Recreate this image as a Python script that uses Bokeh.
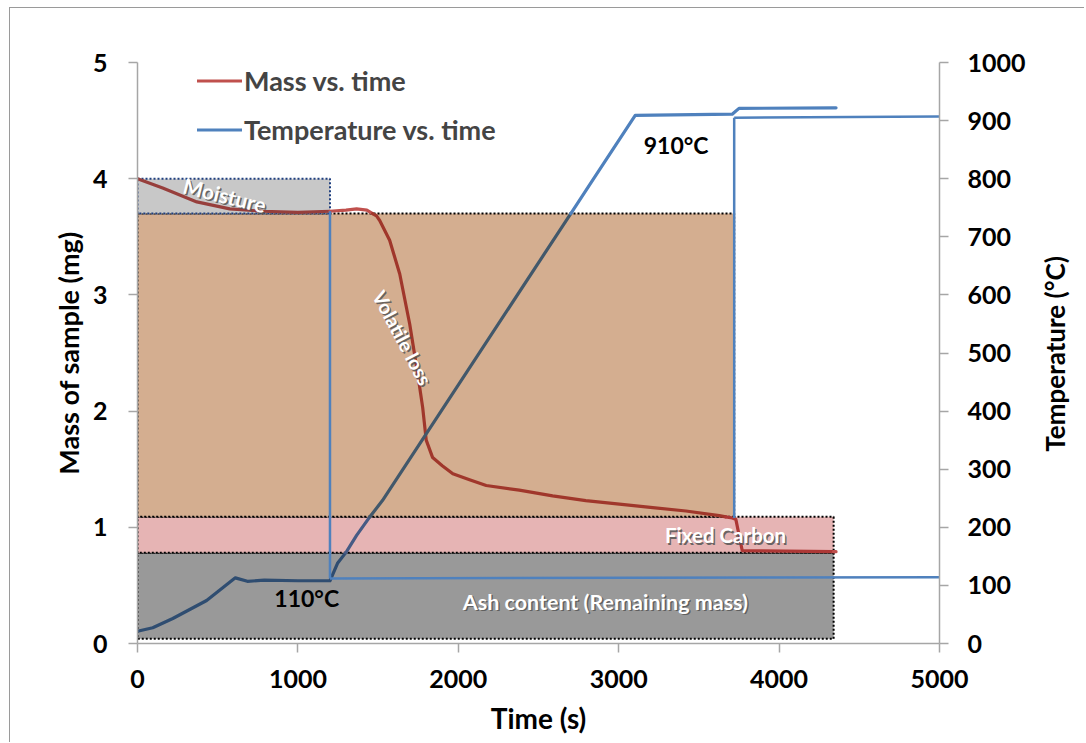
import math
from bokeh.plotting import figure
from bokeh.layouts import row
from bokeh.models import Range1d, LinearAxis, Legend, LegendItem, FixedTicker
from bokeh.core.properties import value
from bokeh.embed import file_html
from bokeh.resources import INLINE

# ---------------- data ----------------
mass_time = [0, 157, 370, 575, 782, 1000, 1200, 1300, 1366, 1430, 1490, 1510,
             1572, 1635, 1697, 1747, 1778, 1800, 1840, 1900, 1966, 2070, 2174,
             2380, 2588, 2795, 3004, 3212, 3419, 3627, 3708, 3730, 3770, 4355]
mass_mg = [4.00, 3.92, 3.80, 3.74, 3.72, 3.71, 3.72, 3.73, 3.74, 3.73, 3.68, 3.64,
           3.47, 3.18, 2.75, 2.32, 2.03, 1.75, 1.60, 1.53, 1.46, 1.41, 1.36,
           1.32, 1.27, 1.23, 1.20, 1.17, 1.14, 1.10, 1.08, 1.07, 0.80, 0.79]

temp_time = [0, 95, 220, 431, 610, 685, 790, 1000, 1200, 1247, 1303, 1366,
             1446, 1527, 3103, 3708, 3750, 4355]
temp_c = [21, 27, 43, 74, 113, 107, 109, 108, 108, 138, 158, 186,
          217, 246, 909, 911, 921, 922]

# drop lines marking the two temperature stages
stage_time = [1200, 3720]
stage_mass = [3.72, 1.08]
stage_temp_start = [112, 905]
stage_temp_end = [114, 907]
stage_labels = ["110°C", "910°C"]

# mass regions (stacked boxes)
region_names = ["Ash content (Remaining mass)", "Fixed Carbon", "Volatile loss", "Moisture"]
region_t0 = [0, 0, 0, 0]
region_t1 = [4340, 4340, 3720, 1200]
region_bottom = [0.04, 0.78, 1.09, 3.70]
region_top = [0.78, 1.09, 3.70, 4.00]

x_ticks = [0, 1000, 2000, 3000, 4000, 5000]
mass_ticks = [0, 1, 2, 3, 4, 5]
temp_ticks = [0, 100, 200, 300, 400, 500, 600, 700, 800, 900, 1000]

# ---------------- styles ----------------
RED = "#C0504D"
BLUE = "#4F81BD"
region_fill = ["#999999", "#E6B4B4", "#D4AE90", "#C8C8C8"]
region_border = ["#000000", "#000000", "#000000", "#1F3F7F"]
FONT = value("Lato")
AXIS_GREY = "#A6A6A6"

X_MAX, MASS_MAX, TEMP_MAX = 5000, 5, 1000
TEMP_PER_MG = TEMP_MAX / MASS_MAX


def hex_rgb(h):
    h = h.lstrip("#")
    return tuple(int(h[i:i + 2], 16) for i in (0, 2, 4))


def multiply(c1, c2):
    a, b = hex_rgb(c1), hex_rgb(c2)
    return "#%02x%02x%02x" % tuple(int(round(x * y / 255)) for x, y in zip(a, b))


def split_by_regions(xs, ys, boxes):
    """Split a polyline where it crosses box edges; returns pieces with box index (or None)."""
    pieces = []
    for i in range(len(xs) - 1):
        xa, ya, xb, yb = xs[i], ys[i], xs[i + 1], ys[i + 1]
        ts = {0.0, 1.0}
        for (x0, x1, y0, y1) in boxes:
            if xb != xa:
                for bx in (x0, x1):
                    t = (bx - xa) / (xb - xa)
                    if 0 < t < 1:
                        ts.add(t)
            if yb != ya:
                for by in (y0, y1):
                    t = (by - ya) / (yb - ya)
                    if 0 < t < 1:
                        ts.add(t)
        ts = sorted(ts)
        for ta, tb in zip(ts[:-1], ts[1:]):
            pa = (xa + ta * (xb - xa), ya + ta * (yb - ya))
            pb = (xa + tb * (xb - xa), ya + tb * (yb - ya))
            mx, my = (pa[0] + pb[0]) / 2, (pa[1] + pb[1]) / 2
            key = None
            for k, (x0, x1, y0, y1) in enumerate(boxes):
                if x0 <= mx <= x1 and y0 <= my <= y1:
                    key = k
            if pieces and pieces[-1][2] == key:
                pieces[-1][0].append(pb[0])
                pieces[-1][1].append(pb[1])
            else:
                pieces.append(([pa[0], pb[0]], [pa[1], pb[1]], key))
    return pieces


# ---------------- main figure ----------------
p = figure(width=1019, height=734, output_backend="svg", toolbar_location=None,
           x_range=Range1d(0, X_MAX), y_range=Range1d(0, MASS_MAX),
           min_border_left=127, min_border_right=90, min_border_top=54,
           min_border_bottom=99, frame_width=802, frame_height=581,
           background_fill_color="white", border_fill_color="white")
p.extra_y_ranges = {"temp": Range1d(0, TEMP_MAX)}
p.outline_line_color = None
p.xgrid.visible = False
p.ygrid.visible = False


def style_axis(ax, standoff):
    ax.axis_line_color = AXIS_GREY
    ax.axis_line_width = 1.5
    ax.major_tick_line_color = AXIS_GREY
    ax.major_tick_line_width = 1.5
    ax.major_tick_out = 9
    ax.major_tick_in = 0
    ax.minor_tick_line_color = None
    ax.major_label_text_font = "Lato"
    ax.major_label_text_font_style = "bold"
    ax.major_label_text_font_size = "25px"
    ax.major_label_text_color = "black"
    ax.major_label_standoff = standoff
    ax.axis_label_text_font = "Lato"
    ax.axis_label_text_font_style = "bold"
    ax.axis_label_text_font_size = "27px"
    ax.axis_label_text_color = "black"


xa = p.xaxis[0]
style_axis(xa, 17)
xa.ticker = FixedTicker(ticks=x_ticks)
xa.axis_label = "Time (s)"
xa.axis_label_standoff = 10
xa.axis_label_text_font_size = "28px"

ya = p.yaxis[0]
style_axis(ya, 21)
ya.ticker = FixedTicker(ticks=mass_ticks)
ya.axis_label = "Mass of sample (mg)"
ya.axis_label_standoff = 5

ra = LinearAxis(y_range_name="temp")
style_axis(ra, 19)
ra.ticker = FixedTicker(ticks=temp_ticks)
p.add_layout(ra, "right")

# ---------------- region boxes ----------------
for k in range(len(region_names)):
    p.quad(left=[region_t0[k]], right=[region_t1[k]], bottom=[region_bottom[k]],
           top=[region_top[k]], fill_color=region_fill[k], line_color=region_border[k],
           line_width=2, line_dash="2 2")

# ---------------- series lines (tinted where they pass under a box) ----------------
mass_boxes = [(region_t0[k], region_t1[k], region_bottom[k], region_top[k])
              for k in range(len(region_names))]
temp_boxes = [(b[0], b[1], b[2] * TEMP_PER_MG, b[3] * TEMP_PER_MG) for b in mass_boxes]

m_pieces = split_by_regions(mass_time, mass_mg, mass_boxes)
m_colors = [RED if k is None else multiply(RED, region_fill[k]) for _, _, k in m_pieces]
mass_r = p.multi_line([pc[0] for pc in m_pieces], [pc[1] for pc in m_pieces],
                      line_color=m_colors, line_width=3.2, line_join="round", line_cap="round")

t_pieces = split_by_regions(temp_time, temp_c, temp_boxes)
t_colors = [BLUE if k is None else multiply(BLUE, region_fill[k]) for _, _, k in t_pieces]
temp_r = p.multi_line([pc[0] for pc in t_pieces], [pc[1] for pc in t_pieces],
                      line_color=t_colors, line_width=3.2, line_join="round", line_cap="round",
                      y_range_name="temp")

# ---------------- stage drop lines ----------------
p.segment(x0=stage_time, x1=stage_time, y0=stage_mass,
          y1=[t / TEMP_PER_MG for t in stage_temp_start], line_color=BLUE, line_width=2.5)
p.segment(x0=stage_time, x1=[X_MAX] * len(stage_time), y0=stage_temp_start,
          y1=stage_temp_end, line_color=BLUE, line_width=2.5, y_range_name="temp")

# ---------------- labels ----------------
label_x = [2917, 3666, 1652, 545]
label_y = [0.36, 0.93, 2.63, 3.86]
label_angle = [0, 0, -62, -14]
label_size = ["21.5px", "20.5px", "19.5px", "21px"]
for k in range(len(region_names)):
    p.text(x=[label_x[k]], y=[label_y[k]], text=[region_names[k]], x_offset=1.5, y_offset=1.5,
           angle=math.radians(label_angle[k]), text_font=FONT, text_font_style="bold",
           text_font_size=label_size[k], text_color="#555555", text_alpha=0.85,
           text_align="center", text_baseline="middle")
    p.text(x=[label_x[k]], y=[label_y[k]], text=[region_names[k]],
           angle=math.radians(label_angle[k]), text_font=FONT, text_font_style="bold",
           text_font_size=label_size[k], text_color="white",
           text_align="center", text_baseline="middle")

stage_label_x = [1055, 3358]
stage_label_y = [0.39, 4.29]
p.text(x=stage_label_x, y=stage_label_y, text=stage_labels, text_font=FONT,
       text_font_style="bold", text_font_size="23px", text_color="black",
       text_align="center", text_baseline="middle")

# ---------------- legend ----------------
mass_idx = next(i for i, pc in enumerate(m_pieces) if pc[2] is None)
temp_idx = max(i for i, pc in enumerate(t_pieces) if pc[2] is None)
legend = Legend(items=[LegendItem(label="Mass vs. time", renderers=[mass_r], index=mass_idx),
                       LegendItem(label="Temperature vs. time", renderers=[temp_r], index=temp_idx)],
                location=(60, 497), border_line_alpha=0, background_fill_alpha=0,
                padding=0, margin=0, spacing=16, glyph_height=33, glyph_width=45,
                label_height=33, label_standoff=2, label_text_font="Lato",
                label_text_font_style="bold", label_text_font_size="27px")
p.add_layout(legend)

# ---------------- right axis title (reads bottom-to-top like the left one) ----------------
pt = figure(width=55, height=734, output_backend="svg", toolbar_location=None,
            x_range=Range1d(0, 1), y_range=Range1d(0, 1), x_axis_type=None, y_axis_type=None,
            min_border=0, frame_width=55, frame_height=734,
            background_fill_color="white", border_fill_color="white")
pt.outline_line_color = None
pt.grid.visible = False
pt.text(x=[0.464], y=[0.603], text=["Temperature (°C)"], angle=math.pi / 2,
        text_font=FONT, text_font_style="bold", text_font_size="26px", text_color="black",
        text_align="center", text_baseline="middle")

layout = row(p, pt, spacing=0,
             styles={"margin-left": "9px", "margin-top": "7px",
                     "border-left": "1.5px solid #9A9A9A", "border-top": "1.5px solid #9A9A9A"})

open("out.html", "w").write(file_html(layout, INLINE))
